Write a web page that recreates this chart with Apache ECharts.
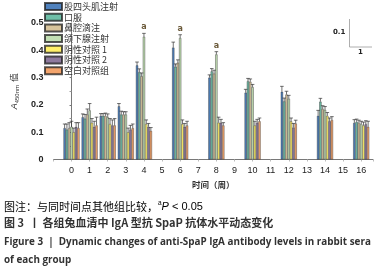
<!DOCTYPE html>
<html><head><meta charset="utf-8">
<script src="https://cdn.jsdelivr.net/npm/echarts@6/dist/echarts.min.js"></script>
<style>html,body{margin:0;padding:0;background:#fff}#c{width:384px;height:270px}</style>
</head><body><div id="c"></div>
<script>
var weeks = [0, 1, 2, 3, 4, 6, 8, 10, 12, 14, 16];
var groupNames = ['股四头肌注射', '口服', '鼻腔滴注', '颌下腺注射', '阴性对照 1', '阴性对照 2', '空白对照组'];
var colors = ['#4f81bd', '#6fbfa8', '#d8c49c', '#c2dfb4', '#fff06a', '#8e7a9e', '#f3a46c'];
var vQuad   = [0.115, 0.155, 0.160, 0.195, 0.345, 0.410, 0.300, 0.245, 0.248, 0.160, 0.134];
var vOral   = [0.110, 0.150, 0.160, 0.165, 0.320, 0.340, 0.323, 0.287, 0.213, 0.212, 0.138];
var vNasal  = [0.115, 0.165, 0.160, 0.165, 0.305, 0.355, 0.315, 0.285, 0.238, 0.185, 0.134];
var vSubm   = [0.120, 0.180, 0.155, 0.165, 0.450, 0.445, 0.385, 0.265, 0.223, 0.182, 0.130];
var vNeg1   = [0.100, 0.135, 0.130, 0.100, 0.130, 0.130, 0.135, 0.125, 0.140, 0.160, 0.125];
var vNeg2   = [0.120, 0.120, 0.125, 0.110, 0.120, 0.120, 0.135, 0.135, 0.117, 0.140, 0.130];
var vBlank  = [0.115, 0.125, 0.125, 0.115, 0.105, 0.125, 0.125, 0.140, 0.132, 0.145, 0.120];
var eQuad   = [0.015, 0.012, 0.008, 0.010, 0.012, 0.020, 0.010, 0.012, 0.020, 0.020, 0.012];
var eOral   = [0.020, 0.015, 0.008, 0.012, 0.012, 0.010, 0.010, 0.010, 0.012, 0.012, 0.010];
var eNasal  = [0.020, 0.020, 0.010, 0.010, 0.012, 0.010, 0.012, 0.010, 0.012, 0.012, 0.010];
var eSubm   = [0.020, 0.025, 0.012, 0.010, 0.012, 0.012, 0.010, 0.010, 0.012, 0.012, 0.010];
var eNeg1   = [0.015, 0.015, 0.020, 0.015, 0.015, 0.015, 0.020, 0.015, 0.012, 0.012, 0.012];
var eNeg2   = [0.015, 0.020, 0.020, 0.015, 0.012, 0.012, 0.012, 0.012, 0.015, 0.012, 0.012];
var eBlank  = [0.020, 0.030, 0.025, 0.015, 0.012, 0.015, 0.010, 0.012, 0.012, 0.012, 0.020];
var sigMarks = [[], [], [], ['', '', '', '', 'a', 'a', 'a', '', '', '', ''], [], [], []];
var yTicks = [0, 0.1, 0.2, 0.3, 0.4, 0.5];

var values = [vQuad, vOral, vNasal, vSubm, vNeg1, vNeg2, vBlank];
var errors = [eQuad, eOral, eNasal, eSubm, eNeg1, eNeg2, eBlank];
var BW = 2.3;
var N = values.length;
var chart = echarts.init(document.getElementById('c'), null, {renderer: 'canvas'});
var series = [];
values.forEach(function (vals, i) {
  series.push({
    name: groupNames[i], type: 'bar', barWidth: BW, barGap: '0%',
    itemStyle: {color: colors[i], borderColor: 'rgba(30,30,30,0.75)', borderWidth: 0.5},
    data: weeks.map(function (w, k) { return [w, vals[k]]; }),
    z: 2
  });
});
values.forEach(function (vals, i) {
  var off = (i - (N - 1) / 2) * BW;
  series.push({
    type: 'custom', z: 5, silent: true,
    data: weeks.map(function (w, k) { return [w, vals[k], errors[i][k]]; }),
    renderItem: function (params, api) {
      var x = api.value(0), v = api.value(1), e = api.value(2);
      var lab = sigMarks[i][params.dataIndex] || '';
      var top = api.coord([x, v + e]);
      var mid = api.coord([x, v]);
      var cx = top[0] + off;
      var ch = [
        {type: 'line', shape: {x1: cx, y1: top[1], x2: cx, y2: mid[1]}, style: {stroke: '#333', lineWidth: 0.7}},
        {type: 'line', shape: {x1: cx - 1.8, y1: top[1], x2: cx + 1.8, y2: top[1]}, style: {stroke: '#333', lineWidth: 0.7}}
      ];
      if (lab) {
        ch.push({type: 'text', style: {text: lab, x: cx, y: top[1] - 2, textAlign: 'center', textVerticalAlign: 'bottom',
          font: 'bold 8px "DejaVu Sans"', fill: '#6b5a3a'}});
      }
      return {type: 'group', children: ch};
    }
  });
});

var cap = '"Noto Sans CJK SC"';
chart.setOption({
  animation: false,
  backgroundColor: '#fff',
  grid: {left: 40, right: 11, top: 23, bottom: 110.5, containLabel: false},
  legend: {
    data: groupNames, orient: 'vertical', left: 44, top: 2,
    itemWidth: 17, itemHeight: 7, itemGap: 1.7, padding: 0,
    icon: 'rect',
    textStyle: {fontSize: 9, color: '#333', fontFamily: cap, padding: [0, 0, 0, -3]}
  },
  xAxis: {
    type: 'value', min: -1, max: 16.65, interval: 1,
    axisLine: {lineStyle: {color: '#555', width: 0.8}},
    axisTick: {show: true, length: 2, lineStyle: {color: '#bbb'}},
    splitLine: {show: false},
    axisLabel: {fontSize: 9, color: '#222', margin: 7, fontFamily: 'Liberation Sans',
      formatter: function (v) { return (v >= 0 && v <= 16) ? String(v) : ''; }},
    name: '时间（周）', nameLocation: 'middle', nameGap: 21,
    nameTextStyle: {fontSize: 8.5, color: '#333', fontFamily: cap, fontWeight: 'bold'}
  },
  yAxis: {
    type: 'value', min: 0, max: 0.5, interval: 0.1,
    axisLine: {show: true, lineStyle: {color: '#555', width: 0.8}},
    axisTick: {show: true, length: 2, lineStyle: {color: '#777'}},
    minorTick: {show: true, splitNumber: 2, length: 2, lineStyle: {color: '#999'}},
    splitLine: {show: false},
    axisLabel: {fontSize: 9, color: '#222', margin: 10, fontFamily: 'Liberation Sans', fontWeight: 'bold',
      formatter: function (v) { return yTicks.indexOf(Math.round(v * 10) / 10) >= 0 ? (v === 0 ? '0' : v.toFixed(1)) : ''; }},
    name: '{a|A}{s|450nm} {c|值}', nameLocation: 'middle', nameRotate: 90, nameGap: 26,
    nameTextStyle: {rich: {
      a: {fontSize: 9, fontStyle: 'italic', fontFamily: 'Liberation Sans', color: '#333'},
      s: {fontSize: 6, fontFamily: 'Liberation Sans', color: '#333', verticalAlign: 'bottom', padding: [4, 0, 0, 0]},
      c: {fontSize: 8.5, fontFamily: cap, color: '#333'}
    }}
  },
  graphic: [
    {type: 'line', shape: {x1: 349.5, y1: 19, x2: 349.5, y2: 47}, style: {stroke: '#999', lineWidth: 0.8}},
    {type: 'line', shape: {x1: 349.5, y1: 47, x2: 372, y2: 47}, style: {stroke: '#999', lineWidth: 0.8}},
    {type: 'text', left: 333, top: 29, style: {text: '0.1', font: 'bold 7px "DejaVu Sans"', fill: '#222'}},
    {type: 'text', left: 358, top: 49, style: {text: '1', font: 'bold 7px "DejaVu Sans"', fill: '#222'}},
    {type: 'text', left: 4, top: 200, style: {
      rich: {
        t: {fontSize: 11, fontFamily: cap, color: '#555'},
        sup: {fontSize: 6.5, fontFamily: 'Liberation Sans', color: '#555', verticalAlign: 'top', padding: [0, 0, 6, 0]},
        p: {fontSize: 11, fontFamily: 'Liberation Sans', fontStyle: 'italic', color: '#555'},
        n: {fontSize: 11, fontFamily: 'Liberation Sans', color: '#555'}
      },
      text: '{t|图注：与同时间点其他组比较，}{sup|a}{p|P}{n| < 0.05}'
    }},
    {type: 'text', left: 4, top: 217, style: {
      text: '图 3  丨 各组兔血清中 IgA 型抗 SpaP 抗体水平动态变化',
      font: 'bold 11px "Noto Sans CJK SC"', fill: '#333'
    }},
    {type: 'text', left: 4, top: 237, style: {
      text: 'Figure 3  |  Dynamic changes of anti-SpaP IgA antibody levels in rabbit sera',
      font: 'bold 9.9px "Open Sans"', fill: '#333'
    }},
    {type: 'text', left: 4, top: 255, style: {
      text: 'of each group', font: 'bold 9.9px "Open Sans"', fill: '#333'
    }}
  ],
  series: series
});
</script></body></html>
